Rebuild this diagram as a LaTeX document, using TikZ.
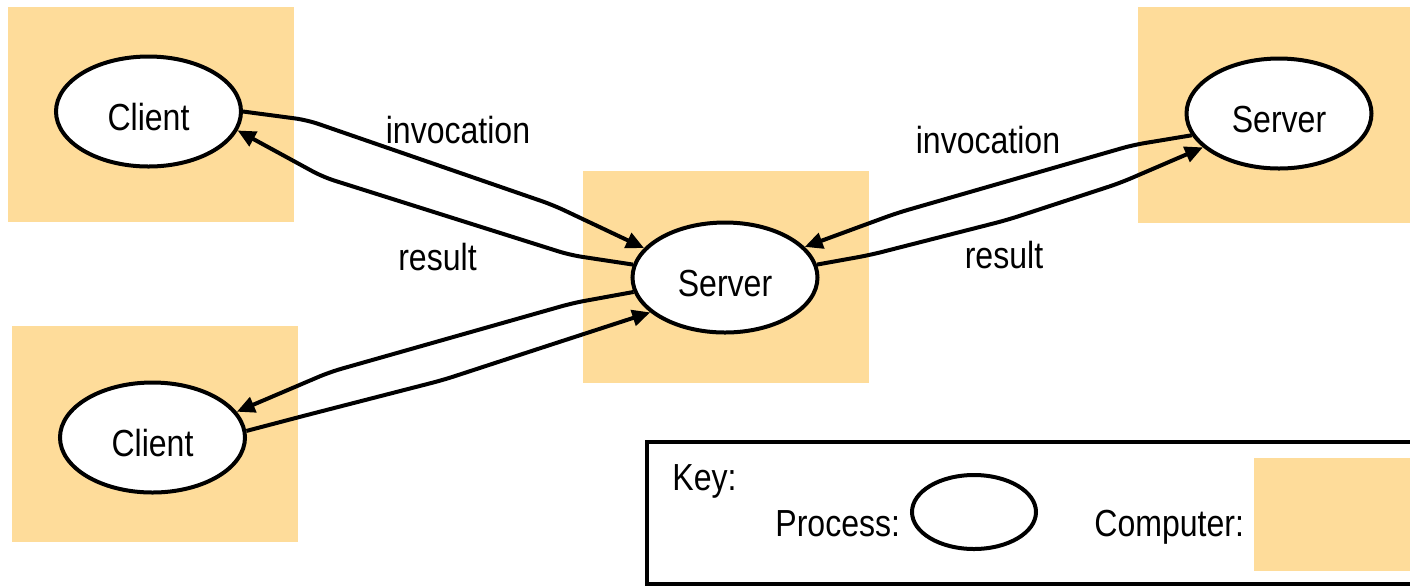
\documentclass[tikz,border=0pt]{standalone}
\usepackage{fontspec}
\setmainfont{Liberation Sans}[FakeStretch=0.85]
\usetikzlibrary{shapes.geometric,arrows.meta}
\definecolor{compc}{RGB}{254,220,154}
\newcommand{\lblfont}{\fontsize{18.85pt}{22pt}\selectfont}
\begin{document}
\begin{tikzpicture}[x=0.5pt,y=-0.5pt,
  compbox/.style={fill=compc, draw=none, inner sep=0pt, outer sep=0pt, anchor=north west},
  proc/.style={ellipse, draw, line width=2pt, fill=white, minimum width=92.5pt, minimum height=55pt, inner sep=0pt, text height=19pt, text depth=0pt, font=\lblfont},
  lbl/.style={font=\lblfont, inner sep=0pt, anchor=base},
  conn/.style={line width=2pt, rounded corners=6pt, -{Triangle[length=9pt,width=8pt]}}]
\useasboundingbox (0,0) rectangle (1410,586);
% computers
\node[compbox, minimum width=143pt, minimum height=107.5pt] (b1) at (8,7) {};
\node[compbox, minimum width=143pt, minimum height=108pt] (b2) at (12,326) {};
\node[compbox, minimum width=143pt, minimum height=106pt] (b3) at (583,171) {};
\node[compbox, minimum width=137pt, minimum height=108pt] (b4) at (1138,7) {};
% key box
\node[draw, line width=2pt, anchor=north west, minimum width=386.5pt, minimum height=70.75pt, inner sep=0pt, outer sep=0pt] (key) at (647,442) {};
\node[compbox, minimum width=79pt, minimum height=56.5pt] (sw) at (1254,458) {};
% processes
\node[proc] (c1) at (148.5,111.5) {Client};
\node[proc] (c2) at (152.5,437.5) {Client};
\node[proc] (s) at (725,277.5) {Server};
\node[proc] (r) at (1279,113.5) {Server};
\node[proc, minimum width=62pt, minimum height=37pt] (k) at (974,512) {};
% labels
\node[lbl] (inv1) at (458,143) {invocation};
\node[lbl] (res1) at (437.5,270) {result};
\node[lbl] (inv2) at (988,153) {invocation};
\node[lbl] (res2) at (1004,268) {result};
\node[lbl, anchor=base west] (keyt) at (672,490) {Key:};
\node[lbl, anchor=base west] (proct) at (775,536) {Process:};
\node[lbl, anchor=base west] (compt) at (1094,536) {Computer:};
% connectors
\draw[conn] (c1.east) -- (307,120) -- (553,205) -- (s.160);
\draw[conn] (s.172) -- (570,255) -- (323,177) -- (c1.-12);
\draw[conn] (s.189) -- (573,303) -- (330,372) -- (c2.17);
\draw[conn] (c2.4) -- (307,415) -- (443,380) -- (550,345) -- (s.205);
\draw[conn] (r.194) -- (1133,145) -- (897,213) -- (s.21);
\draw[conn] (s.8) -- (870,255) -- (1007,220) -- (1120,183) -- (r.204);
\end{tikzpicture}
\end{document}
